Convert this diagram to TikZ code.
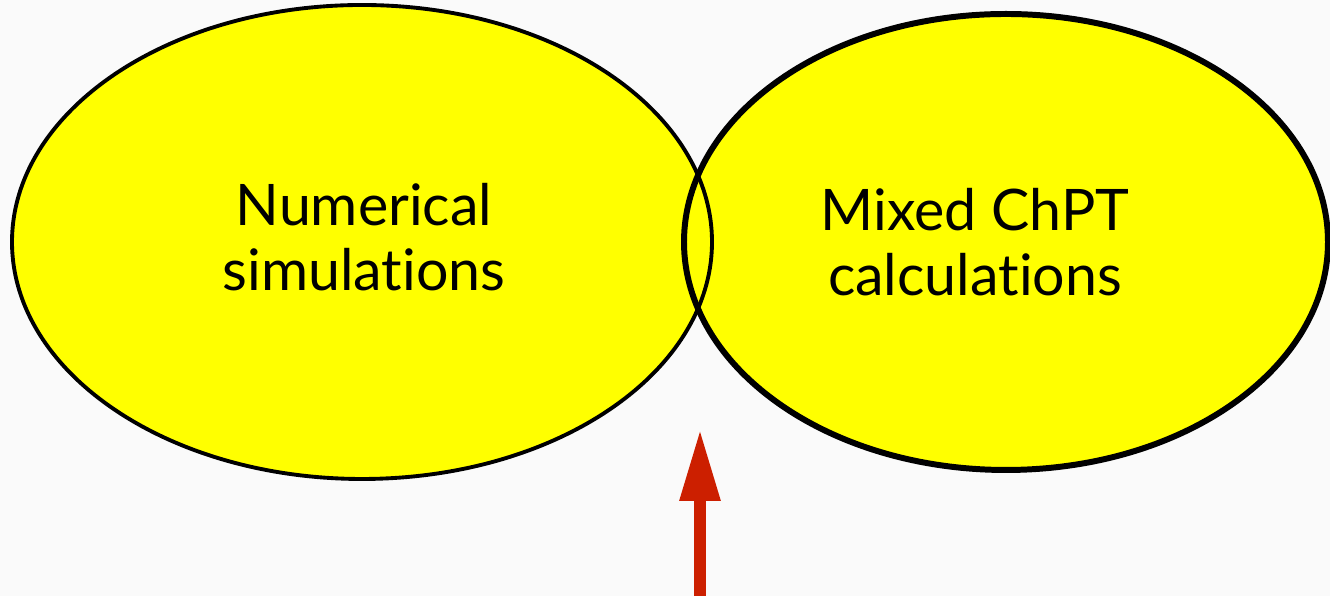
\documentclass[tikz,border=0pt]{standalone}
\usepackage{fontspec}
\setmainfont{Lato}[Ligatures=NoCommon]
\usepackage{tikz}
\usetikzlibrary{shapes.geometric,arrows.meta,positioning,backgrounds}
\definecolor{lemon}{RGB}{255,255,0}
\definecolor{paper}{RGB}{250,250,250}
\definecolor{brick}{RGB}{204,31,0}

\begin{document}
\begin{tikzpicture}[font=\fontsize{16.3}{18.3}\selectfont,
  e/.style={ellipse,draw=black,inner sep=0pt,outer sep=0pt},
  t/.style={align=center,inner sep=0pt},
  a/.style={-{Triangle[length=7.2mm,width=3.8mm]},line width=1.2mm,color=brick}]
  \useasboundingbox (0,0) rectangle (13.3,-5.96);
  \node[e,line width=1.1pt,minimum width=7.0cm,minimum height=4.74cm] (sim) at (3.62,-2.42) {};
  \node[e,line width=1.7pt,minimum width=6.44cm,minimum height=4.56cm] (chpt) at (10.06,-2.42) {};
  \node[t] (simtxt) at ([xshift=0.02cm,yshift=0.05cm]sim.center) {Numerical\\simulations};
  \node[t] (chpttxt) at ([xshift=-0.31cm,yshift=0.0cm]chpt.center) {Mixed ChPT\\calculations};
  \begin{scope}[on background layer]
    \fill[paper] (0,0) rectangle (13.3,-5.96);
    \fill[lemon] (sim.center) ellipse [x radius=3.5cm,y radius=2.37cm];
    \fill[lemon] (chpt.center) ellipse [x radius=3.22cm,y radius=2.28cm];
  \end{scope}
  \coordinate (foot) at (7.0,-5.96);
  \coordinate (tip) at (7.0,-4.29);
  \draw[a] (foot) -- (tip);
\end{tikzpicture}
\end{document}
